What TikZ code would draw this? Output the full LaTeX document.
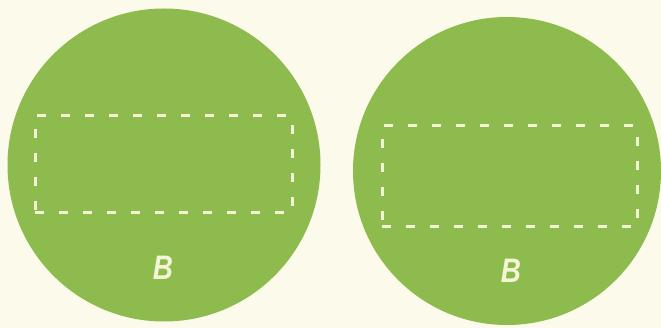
\documentclass[tikz,border=0pt]{standalone}
\usepackage{fontspec}
\setsansfont{Liberation Sans}
\definecolor{leafgreen}{RGB}{142,187,77}
\definecolor{paper}{RGB}{252,250,234}
\definecolor{chalk}{RGB}{244,244,214}

\begin{document}
\begin{tikzpicture}[
  x=1pt,
  y=-1pt,
  disc/.style={circle, fill=leafgreen, inner sep=0pt},
  frame/.style={draw=chalk, line width=3pt, dash pattern=on 9pt off 15pt, inner sep=0pt},
  letter/.style={text=chalk, font=\sffamily\bfseries\itshape\fontsize{34}{34}\selectfont, xscale=0.82, inner sep=0pt}
]
\fill[paper] (0,0) rectangle (661,328);
\useasboundingbox (0,0) rectangle (661,328);

\node[disc, minimum size=313pt] (leftdisc) at (164,165) {};
\node[disc, minimum size=308pt] (rightdisc) at (507,171) {};

\node[frame, minimum width=257pt, minimum height=97pt] (leftframe) at (163.5,164.5) {};
\node[frame, minimum width=255pt, minimum height=101pt] (rightframe) at (509.5,176.5) {};

\node[letter] (leftB) at (163,268) {B};
\node[letter] (rightB) at (511,271) {B};
\end{tikzpicture}
\end{document}
